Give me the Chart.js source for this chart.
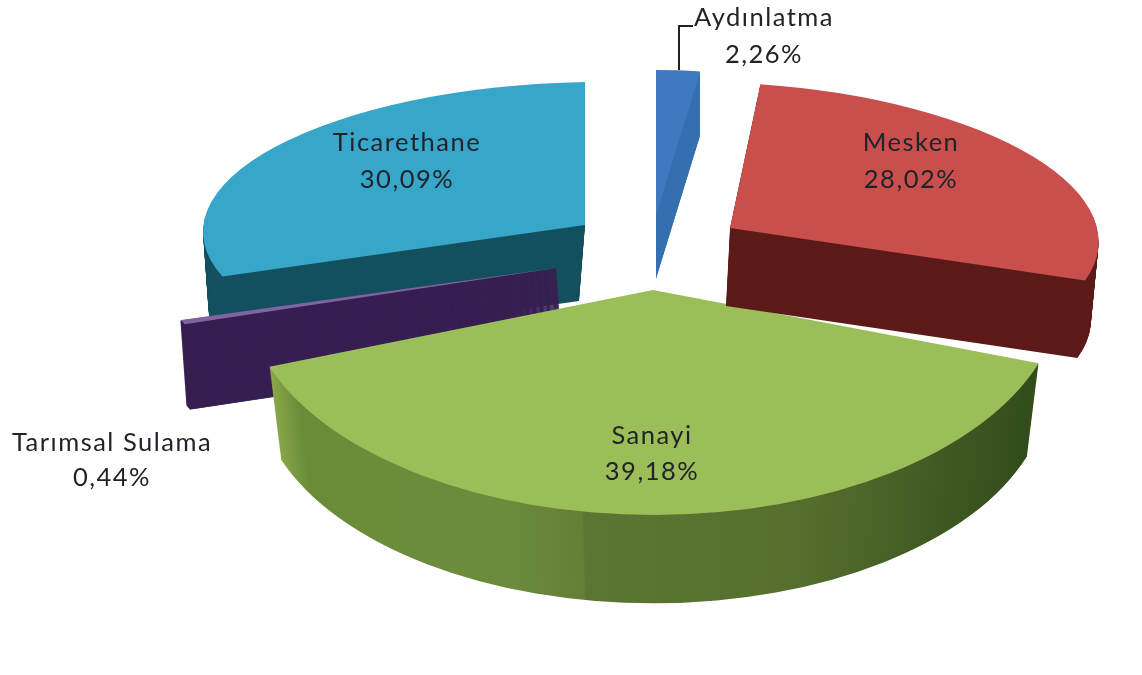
<!DOCTYPE html>
<html><head><meta charset="utf-8">
<style>html,body{margin:0;padding:0;background:#fff}canvas{display:block}</style>
<script src="https://cdn.jsdelivr.net/npm/chart.js@4/dist/chart.umd.min.js"></script>
</head><body><canvas id="c" width="1142" height="675"></canvas>
<script>
const categories = ['Aydınlatma','Mesken','Sanayi','Tarımsal Sulama','Ticarethane'];
const shares = [2.26,28.02,39.18,0.44,30.09];
const topColors = ['#4079c0','#c84f4c','#9cbe58','#8064a2','#38a6c8'];
const sideColors = ['#3570b0','#5c1b19','#5f7f35','#381f52','#14505f'];

// 3D view of each exploded slice: apex position, semi-axes, skews, extrusion depth, shrink and lean of the base
const views = [
  {ax:656,ay:215,rx:312,ry:145,kx:0,ky:0,depth:64,shrink:1,lean:0},
  {ax:730,ay:228,rx:368,ry:146,kx:0.15,ky:0.014,depth:78,shrink:0.99,lean:-4},
  {ax:653,ay:290,rx:408,ry:225,kx:0,ky:0,depth:95,shrink:0.97,lean:0},
  {ax:556,ay:268,rx:395,ry:165,kx:0,ky:0,depth:85,shrink:1,lean:6},
  {ax:585,ay:225,rx:382,ry:143,kx:0,ky:-0.018,depth:76,shrink:0.97,lean:-6}
];
const drawOrder = [4,3,2,1,0];
const labelPos = [[764,18,55],[911,143,180],[652,436,472],[112,443,478],[407,143,180]];
const sanayiSide = [[268,'#8aa84a'],[300,'#6a8c38'],[500,'#6c8c3c'],[582,'#647f37'],[584,'#5a7632'],[800,'#566f2e'],[1030,'#334c1c']];

function withOptions(arc, opts, fn){
  const saved = arc.options;
  arc.options = Object.assign({}, saved, opts);
  fn();
  arc.options = saved;
}
const pie3d = {
  id:'pie3d',
  beforeDatasetDraw(chart, args){
    const ctx = chart.ctx, arcs = args.meta.data;
    for(const i of drawOrder){
      const arc = arcs[i], v = views[i], R = arc.outerRadius;
      const place = (dy,f)=>{
        const sx=v.rx/R*f, sy=v.ry/R*f;
        const a=sx, b=v.ky*sx, c=v.kx*sy, d=sy;
        const lx=v.lean*dy/v.depth;
        ctx.setTransform(a,b,c,d,v.ax+lx-(a*arc.x+c*arc.y),v.ay+dy-(b*arc.x+d*arc.y));
      };
      ctx.save();
      let side = sideColors[i];
      if(i===2){
        const sx=v.rx/R;
        side = ctx.createLinearGradient(arc.x+(268-v.ax)/sx,0,arc.x+(1030-v.ax)/sx,0);
        for(const [x,c] of sanayiSide) side.addColorStop((x-268)/(1030-268),c);
      }
      // the thin sliver needs a stroke, or its narrow end fades out
      const sideOpts = i===3 ? {backgroundColor:side,borderColor:side,borderWidth:1} : {backgroundColor:side};
      for(let d=v.depth;d>=1;d--){
        place(d,1-(1-v.shrink)*d/v.depth);
        withOptions(arc,sideOpts,()=>arc.draw(ctx));
      }
      place(0,1);
      arc.draw(ctx);
      ctx.restore();
    }
    return false;
  },
  afterDraw(chart){
    const ctx = chart.ctx;
    ctx.save();
    ctx.strokeStyle='#222';ctx.lineWidth=2;
    ctx.beginPath();ctx.moveTo(679,70);ctx.lineTo(679,26);ctx.lineTo(693,26);ctx.stroke();
    ctx.fillStyle='#20242a';
    ctx.font='25.5px Lato';
    ctx.letterSpacing='1.5px';
    ctx.textAlign='center';ctx.textBaseline='middle';
    categories.forEach((name,i)=>{
      const [x,y1,y2]=labelPos[i];
      ctx.fillText(name,x,y1);
      ctx.fillText(shares[i].toFixed(2).replace('.',',')+'%',x,y2);
    });
    ctx.restore();
  }
};
new Chart(document.getElementById('c'),{
  type:'pie',
  data:{labels:categories,datasets:[{data:shares,backgroundColor:topColors,borderWidth:0}]},
  options:{responsive:false,animation:false,radius:200,
    plugins:{legend:{display:false},tooltip:{enabled:false}}},
  plugins:[pie3d]
});
</script></body></html>
